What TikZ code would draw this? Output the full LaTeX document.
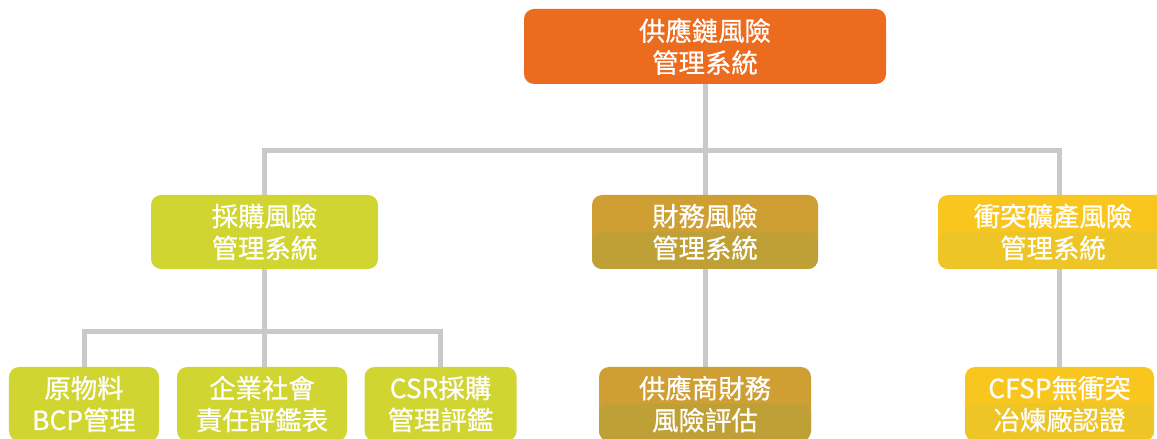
\documentclass[tikz,border=0pt]{standalone}
\usepackage{fontspec}
\usetikzlibrary{backgrounds}
\newfontfamily\cjk[FakeBold=0.6]{Noto Sans CJK TC}
\definecolor{conngray}{HTML}{C9C9C9}
\definecolor{topor}{HTML}{EC6C1F}
\definecolor{lime}{HTML}{D1D532}
\definecolor{gold}{HTML}{CF9F33}
\definecolor{goldband}{HTML}{BFA036}
\definecolor{yel}{HTML}{F9C61F}
\definecolor{yelband}{HTML}{EDC526}
\tikzset{
  conn/.style={draw=conngray, line width=5bp},
  box/.style={rectangle, rounded corners=10bp, text=white, align=center,
    font=\cjk\fontsize{26.5}{32}\selectfont, inner sep=0pt, minimum height=74bp},
  banded/.style={path picture={\fill[#1, rounded corners=9bp]
      (path picture bounding box.west) rectangle (path picture bounding box.south east);}}
}
\begin{document}
\begin{tikzpicture}[x=1bp,y=-1bp]
\useasboundingbox (0,0) rectangle (1157,439);
% nodes
\node[box, fill=topor, minimum width=362bp, minimum height=75bp] (top) at (705,46.5) {供應鏈風險\\管理系統};
\node[box, fill=lime, minimum width=227bp] (b1) at (264.5,232) {採購風險\\管理系統};
\node[box, fill=gold, banded=goldband, minimum width=226bp] (b2) at (705,232) {財務風險\\管理系統};
\node[box, fill=yel, banded=yelband, minimum width=230bp] (b3) at (1053,232) {衝突礦產風險\\管理系統};
\node[box, fill=lime, minimum width=150bp] (c1) at (84,404) {原物料\\BCP管理};
\node[box, fill=lime, minimum width=170bp] (c2) at (262,404) {企業社會\\責任評鑑表};
\node[box, fill=lime, minimum width=152bp] (c3) at (440.5,404) {CSR採購\\管理評鑑};
\node[box, fill=gold, banded=goldband, minimum width=212bp] (d1) at (705,404) {供應商財務\\風險評估};
\node[box, fill=yel, banded=yelband, minimum width=189bp] (e1) at (1059.5,404) {CFSP無衝突\\冶煉廠認證};
\coordinate (bus1) at (705,150.5);
\coordinate (bus2) at (264.5,331.5);
% connectors (behind boxes)
\begin{scope}[on background layer]
  \draw[conn] (top.south) -- (b2.north);
  \draw[conn] (b1.north) |- (bus1) -| (e1.north |- b3.north);
  \draw[conn] (b2.south) -- (d1.north);
  \draw[conn] (e1.north |- b3.south) -- (e1.north);
  \draw[conn] (b1.south) -- (bus2);
  \draw[conn] (c1.north) |- (bus2) -| (c3.north);
  \draw[conn] (bus2) -- (c2.north -| bus2);
\end{scope}
\end{tikzpicture}
\end{document}
